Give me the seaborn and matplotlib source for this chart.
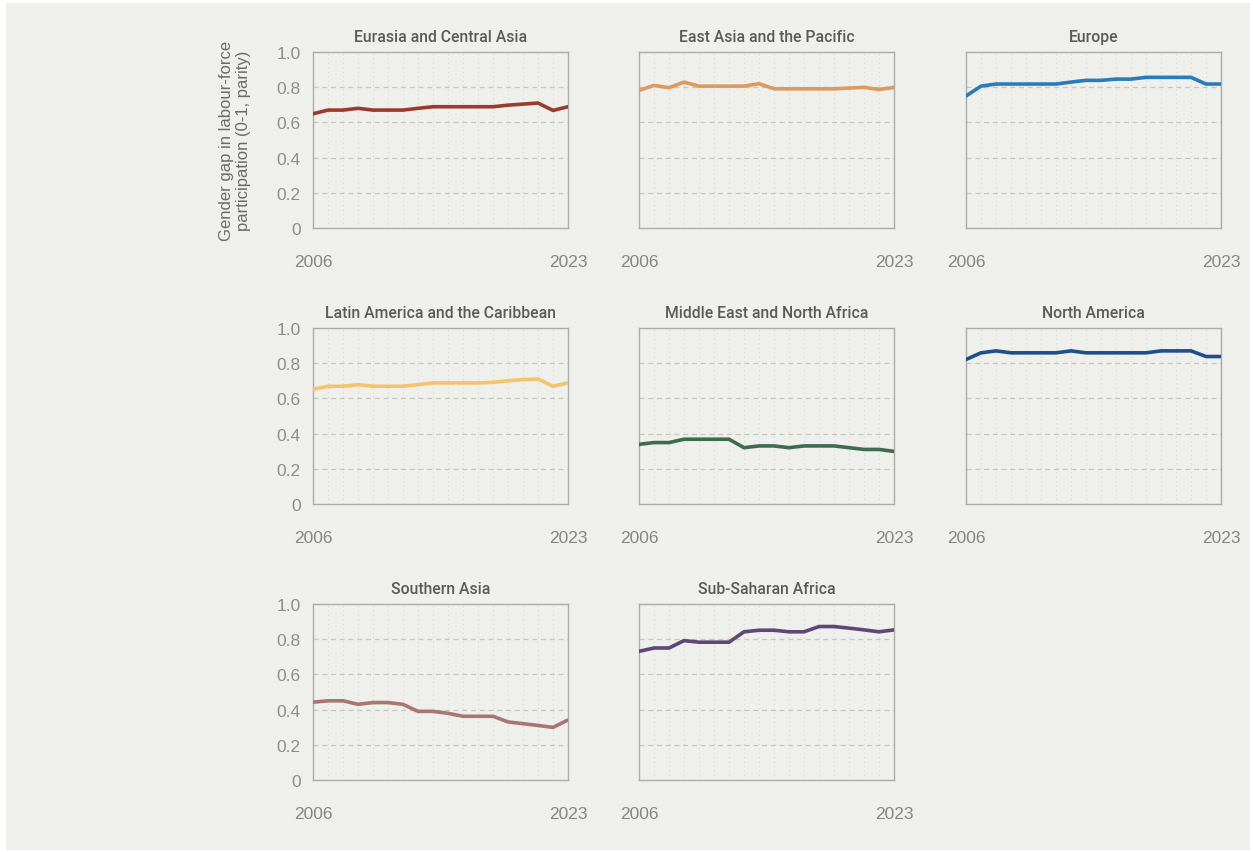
import pandas as pd
import matplotlib
matplotlib.use('Agg')
import matplotlib.pyplot as plt
import seaborn as sns
from matplotlib.patches import Rectangle
from matplotlib.ticker import FuncFormatter, MultipleLocator

years = list(range(2006, 2024))

regions = ['Eurasia and Central Asia', 'East Asia and the Pacific', 'Europe',
           'Latin America and the Caribbean', 'Middle East and North Africa', 'North America',
           'Southern Asia', 'Sub-Saharan Africa']

eurasia = [0.649, 0.670, 0.670, 0.680, 0.670, 0.670, 0.670, 0.680, 0.689, 0.689,
           0.689, 0.689, 0.689, 0.698, 0.704, 0.710, 0.668, 0.689]
east_asia = [0.782, 0.810, 0.797, 0.829, 0.806, 0.806, 0.806, 0.806, 0.820, 0.791,
             0.791, 0.791, 0.791, 0.791, 0.795, 0.799, 0.787, 0.799]
europe = [0.750, 0.806, 0.818, 0.818, 0.818, 0.818, 0.818, 0.829, 0.839, 0.839,
          0.846, 0.846, 0.856, 0.856, 0.856, 0.856, 0.818, 0.818]
latin_america = [0.651, 0.669, 0.669, 0.678, 0.669, 0.669, 0.669, 0.678, 0.688, 0.688,
                 0.688, 0.688, 0.691, 0.700, 0.707, 0.710, 0.669, 0.688]
mena = [0.339, 0.349, 0.349, 0.368, 0.368, 0.368, 0.368, 0.320, 0.330, 0.330,
        0.320, 0.330, 0.330, 0.330, 0.320, 0.310, 0.310, 0.299]
north_america = [0.821, 0.859, 0.870, 0.859, 0.859, 0.859, 0.859, 0.870, 0.859, 0.859,
                 0.859, 0.859, 0.859, 0.870, 0.870, 0.870, 0.838, 0.838]
southern_asia = [0.442, 0.450, 0.450, 0.430, 0.440, 0.440, 0.430, 0.390, 0.390, 0.379,
                 0.362, 0.362, 0.362, 0.330, 0.320, 0.310, 0.299, 0.341]
sub_saharan = [0.731, 0.750, 0.750, 0.792, 0.783, 0.783, 0.783, 0.842, 0.851, 0.851,
               0.842, 0.842, 0.872, 0.872, 0.863, 0.853, 0.842, 0.853]

colors = ['#9b3b2f', '#de9a5e', '#2a7bb9', '#f3c46b', '#3e6a4f', '#1f4f8b', '#a8766f', '#5f4677']

series = [eurasia, east_asia, europe, latin_america, mena, north_america, southern_asia, sub_saharan]
df = pd.concat([pd.DataFrame({'region': r, 'year': years, 'value': v}) for r, v in zip(regions, series)])

sns.set_style('white')
plt.rcParams['font.family'] = ['Liberation Sans', 'DejaVu Sans']

W, H = 1253, 853
fig = plt.figure(figsize=(W / 100, H / 100), dpi=100, facecolor='white')
bg = Rectangle((6 / W, 2 / H), 1244 / W, 847 / H, transform=fig.transFigure,
               facecolor='#efefeb', edgecolor='none', zorder=-10)
fig.patches.append(bg)

col_left = [313, 639, 966]
row_top = [53, 329, 605]
aw, ah = 255, 176

for i, region in enumerate(regions):
    r, c = divmod(i, 3)
    ax = fig.add_axes([col_left[c] / W, 1 - (row_top[r] + ah) / H, aw / W, ah / H])
    ax.set_facecolor('#efefeb')
    sub = df[df['region'] == region]
    sns.lineplot(data=sub, x='year', y='value', ax=ax, color=colors[i], linewidth=2.6, zorder=3)
    ax.set_xlim(2006, 2023)
    ax.set_ylim(0, 1)
    ax.set_xticks([2006, 2023])
    ax.xaxis.set_minor_locator(MultipleLocator(1))
    ax.set_yticks([0, 0.2, 0.4, 0.6, 0.8, 1.0])
    ax.yaxis.set_major_formatter(FuncFormatter(lambda v, p: '0' if v == 0 else f'{v:.1f}'))
    ax.grid(False)
    for y in [0.2, 0.4, 0.6, 0.8]:
        ax.axhline(y, color='#c6c6c2', linestyle=(0, (4, 3)), linewidth=0.9, zorder=1)
    for yr in years[1:-1]:
        ax.axvline(yr, color='#d8d8d4', linestyle=(0, (1, 3)), linewidth=0.8, zorder=1)
    for s in ax.spines.values():
        s.set_color('#ababab')
        s.set_linewidth(1.0)
    ax.tick_params(axis='x', which='major', length=9, width=0.9, color='#c8c8c8',
                   labelsize=12.5, labelcolor='#858585', pad=10)
    ax.tick_params(axis='x', which='minor', length=0)
    ax.tick_params(axis='y', length=0, labelsize=12.5, labelcolor='#8e8e8e', pad=9)
    if c != 0:
        ax.set_yticklabels([])
    ax.set_xlabel('')
    ax.set_ylabel('')
    ax.set_title(region, fontsize=11.3, color='#5a5a5a', fontweight='medium',
                 family=['Roboto', 'DejaVu Sans'], pad=8)
    if i == 0:
        ax.set_ylabel('Gender gap in labour-force\nparticipation (0-1, parity)',
                      fontsize=12, color='#6a6a6a', labelpad=18, linespacing=1.15)

fig.savefig('out.png', dpi=100, facecolor=fig.get_facecolor())
